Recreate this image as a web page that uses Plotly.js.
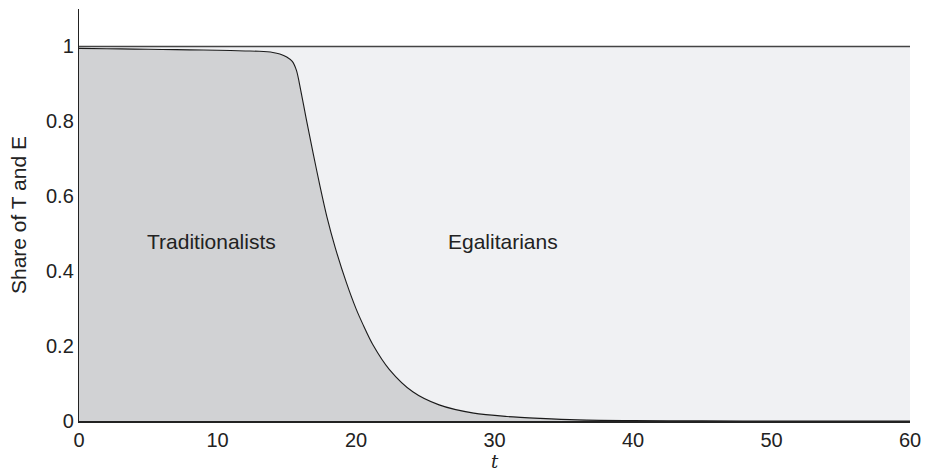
<!DOCTYPE html>
<html>
<head>
<meta charset="utf-8">
<script src="https://cdn.plot.ly/plotly-3.0.1.min.js"></script>
<style>html,body{margin:0;padding:0;background:#fff;}#chart{width:925px;height:474px;}</style>
</head>
<body>
<div id="chart"></div>
<script>
var t = [0, 2, 4, 6, 8, 10, 12, 13, 14, 14.5, 15, 15.4, 15.7, 16, 16.4, 16.9, 17.4, 17.9, 18.5, 19.3, 20, 20.5, 21.2, 22.4, 24.1, 26, 28.5, 30.9, 33.3, 36, 40, 45, 50, 60];
var shareT = [0.995, 0.994, 0.993, 0.992, 0.991, 0.990, 0.988, 0.987, 0.984, 0.980, 0.972, 0.960, 0.936, 0.885, 0.808, 0.716, 0.627, 0.545, 0.463, 0.370, 0.300, 0.258, 0.205, 0.138, 0.078, 0.043, 0.021, 0.012, 0.007, 0.003, 0.001, 0.0003, 0, 0];
var shareE = shareT.map(function(v){ return 1 - v; });
var xTicks = [0, 10, 20, 30, 40, 50, 60];
var yTicks = [0, 0.2, 0.4, 0.6, 0.8, 1];
var yTickText = ['0', '0.2', '0.4', '0.6', '0.8', '1'];

var traces = [
  {x: t, y: shareT, type: 'scatter', mode: 'lines', stackgroup: 'a', fill: 'tozeroy',
   fillcolor: '#d1d2d4', line: {color: '#1a1a1a', width: 1.1, shape: 'spline', smoothing: 0.8}, hoverinfo: 'skip'},
  {x: t, y: shareE, type: 'scatter', mode: 'lines', stackgroup: 'a', fill: 'tonexty',
   fillcolor: '#f0f1f3', line: {color: '#444', width: 1.6}, hoverinfo: 'skip'}
];

var layout = {
  width: 925, height: 474,
  margin: {l: 79, r: 15, t: 9, b: 53},
  paper_bgcolor: '#fff', plot_bgcolor: '#fff',
  showlegend: false,
  font: {family: 'Liberation Sans, Arial, sans-serif', color: '#222', size: 20},
  xaxis: {range: [0, 60], tickvals: xTicks, ticktext: xTicks.map(String), showgrid: false, zeroline: false,
          showline: true, linecolor: '#222', linewidth: 1.6, ticks: '', ticklen: 0,
          tickfont: {size: 20, color: '#222'},
          title: {text: 't', font: {family: 'DejaVu Serif, Liberation Serif, serif', size: 18, style: 'italic', color: '#222'}, standoff: 1}},
  yaxis: {range: [0, 1.1], tickvals: yTicks, ticktext: yTickText, showgrid: false, zeroline: false,
          showline: true, linecolor: '#222', linewidth: 1.2, ticks: '', ticklen: 0,
          tickfont: {size: 20, color: '#222'},
          title: {text: 'Share of T and E', font: {size: 21, color: '#222'}, standoff: 13}},
  annotations: [
    {x: 9.6, y: 0.48, xref: 'x', yref: 'y', text: 'Traditionalists', showarrow: false, font: {size: 21, color: '#222'}},
    {x: 30.6, y: 0.48, xref: 'x', yref: 'y', text: 'Egalitarians', showarrow: false, font: {size: 21, color: '#222'}}
  ]
};
Plotly.newPlot('chart', traces, layout, {displayModeBar: false, staticPlot: true});
</script>
</body>
</html>
